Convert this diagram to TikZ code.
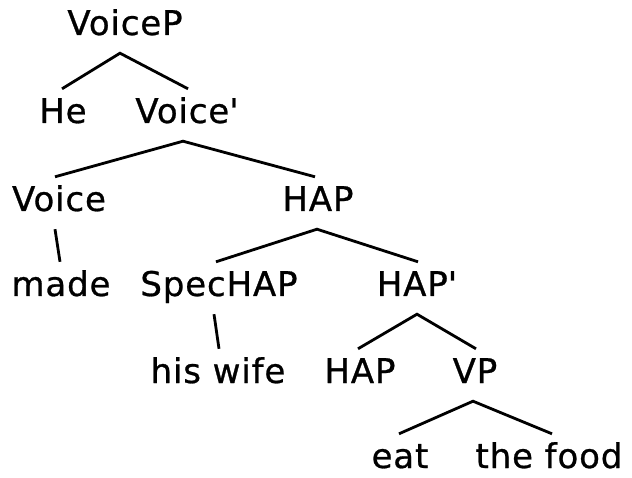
\documentclass[tikz,border=0pt]{standalone}
\usepackage{fontspec}
\newfontfamily\treefont{DejaVu Sans}[LetterSpace=2.5, FakeBold=0.8]
\begin{document}
\begin{tikzpicture}[x=1pt, y=-1pt,
  lbl/.style={font=\treefont\fontsize{34}{40}\selectfont, inner sep=0pt,
              text height=34pt, text depth=18pt, anchor=base},
  branch/.style={line width=2.8pt}]
\useasboundingbox (0,0) rectangle (632,478);

% labels, placed on their baselines
\node[lbl] (VoiceP)  at (125,35)  {VoiceP};
\node[lbl] (He)      at (63,123)  {He};
\node[lbl] (Vbar)    at (187,123) {Voice\textquotesingle};
\node[lbl] (Voice)   at (59,211)  {Voice};
\node[lbl] (HAP)     at (318,211) {HAP};
\node[lbl] (made)    at (61,296)  {made};
\node[lbl] (Spec)    at (219,296) {SpecHAP};
\node[lbl] (HAPbar)  at (417,296) {HAP\textquotesingle};
\node[lbl] (wife)    at (218,383) {his wife};
\node[lbl] (HAPhead) at (360,383) {HAP};
\node[lbl] (VP)      at (475,383) {VP};
\node[lbl] (eat)     at (400,468) {eat};
\node[lbl] (food)    at (549,468) {the food};

% branches
\draw[branch] ([xshift=-1pt]He.north) -- ([xshift=-5pt]VoiceP.south) -- ([xshift=1pt]Vbar.north);
\draw[branch] ([xshift=-4pt]Voice.north) -- ([xshift=-4pt]Vbar.south) -- ([xshift=-3pt]HAP.north);
\draw[branch] ([xshift=-4pt]Voice.south) -- ([xshift=-1pt]made.north);
\draw[branch] ([xshift=-3pt]Spec.north) -- ([xshift=-1pt]HAP.south) -- ([xshift=1pt]HAPbar.north);
\draw[branch] ([xshift=-5pt]Spec.south) -- ([xshift=1pt]wife.north);
\draw[branch] ([xshift=-2pt]HAPhead.north) -- (HAPbar.south) -- ([xshift=1pt]VP.north);
\draw[branch] ([xshift=-1pt]eat.north) -- ([xshift=-2pt]VP.south) -- ([xshift=3pt]food.north);
\end{tikzpicture}
\end{document}
